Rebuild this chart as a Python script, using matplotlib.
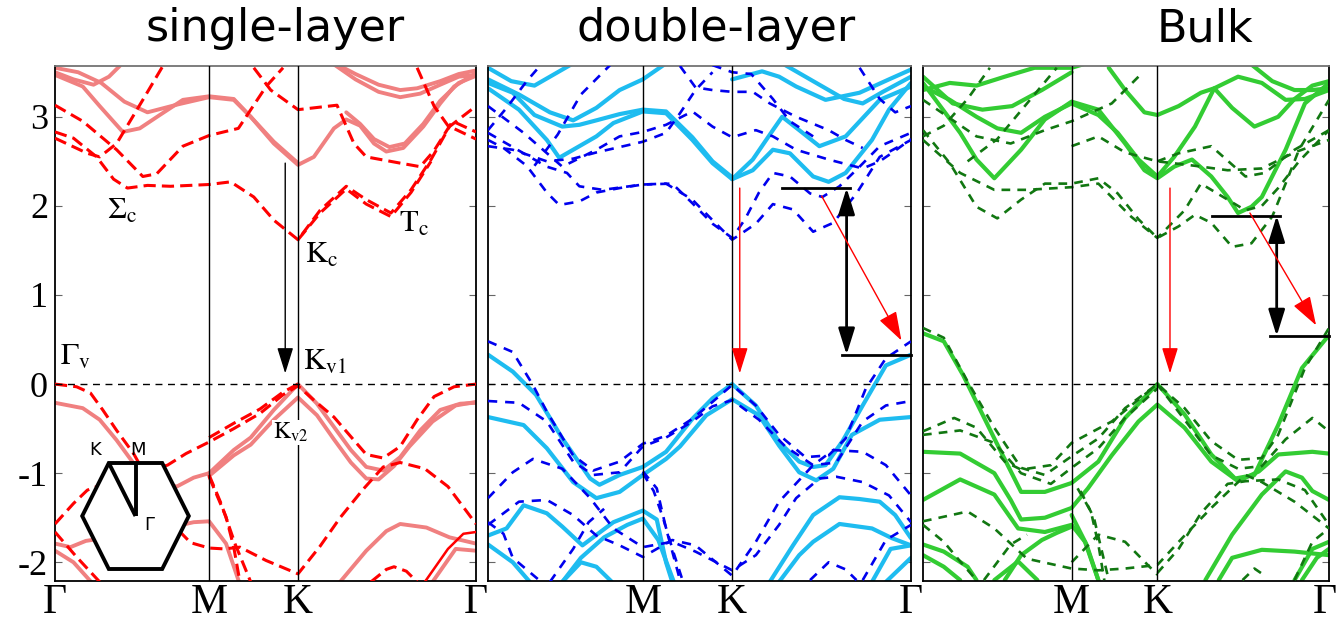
import numpy as np
import matplotlib
matplotlib.use('Agg')
import matplotlib.pyplot as plt
import matplotlib.transforms as mtransforms
from matplotlib.patches import Polygon

plt.rcParams['mathtext.fontset'] = 'stix'
plt.rcParams['font.family'] = ['Liberation Serif', 'DejaVu Serif']
plt.rcParams['axes.unicode_minus'] = False

# path Gamma-M-K-Gamma, distances in units of |Gamma-M|
KPTS = [0.0, 1.0, 1.577, 2.732]
EMIN, EMAX = -2.21, 3.57

# ---------------- single layer ----------------
SL_SOLID = [
    ([0, 0.18, 0.29, 0.44, 0.55, 0.68, 0.83, 1.0, 1.16, 1.27, 1.42, 1.577, 1.68, 1.81, 1.89, 1.98, 2.07, 2.15, 2.26, 2.39, 2.5, 2.59, 2.732],
     [3.47, 3.34, 3.12, 2.83, 2.87, 3.02, 3.19, 3.23, 3.2, 3.0, 2.70, 2.46, 2.55, 2.87, 2.97, 2.9, 2.70, 2.61, 2.65, 2.89, 3.15, 3.34, 3.49]),
    ([0, 0.15, 0.3, 0.45, 0.6, 0.8, 1.0, 1.16, 1.27, 1.42, 1.577],
     [3.55, 3.5, 3.38, 3.17, 3.05, 3.14, 3.22, 3.19, 3.0, 2.72, 2.48]),
    ([1.85, 1.95, 2.1, 2.24, 2.35, 2.5, 2.62, 2.732],
     [3.57, 3.48, 3.36, 3.30, 3.32, 3.4, 3.48, 3.52]),
    ([1.8, 1.95, 2.1, 2.24, 2.37, 2.5, 2.62, 2.732],
     [3.6, 3.42, 3.28, 3.22, 3.26, 3.36, 3.45, 3.47]),
    ([1.89, 1.98, 2.07, 2.17, 2.27, 2.39, 2.5, 2.62, 2.732],
     [3.05, 2.92, 2.75, 2.66, 2.70, 2.92, 3.18, 3.38, 3.46]),
    ([0, 0.12, 0.25, 0.35, 0.42], [3.5, 3.42, 3.36, 3.45, 3.57]),
    # valence
    ([1.0, 1.16, 1.27, 1.42, 1.577, 1.70, 1.81, 1.92, 2.02, 2.13, 2.24, 2.37, 2.5, 2.63, 2.732],
     [-1.0, -0.74, -0.60, -0.29, 0.0, -0.22, -0.48, -0.74, -0.93, -0.97, -0.82, -0.52, -0.29, -0.22, -0.21]),
    ([1.0, 1.16, 1.27, 1.42, 1.577, 1.70, 1.81, 1.92, 2.02, 2.1, 2.2, 2.3, 2.45, 2.6, 2.732],
     [-1.03, -0.80, -0.68, -0.40, -0.15, -0.35, -0.62, -0.88, -1.06, -1.07, -0.92, -0.70, -0.42, -0.24, -0.20]),
    ([0, 0.18, 0.29, 0.4, 0.51, 0.62, 0.79, 0.9, 1.0],
     [-0.21, -0.27, -0.40, -0.63, -0.89, -1.08, -1.15, -1.05, -1.0]),
    ([0, 0.1, 0.2, 0.35, 0.5, 0.65, 0.77, 0.9, 1.0, 1.11, 1.2],
     [-1.79, -1.83, -1.76, -1.72, -1.68, -1.63, -1.60, -1.55, -1.54, -1.79, -2.25]),
    ([0, 0.12, 0.25], [-1.87, -2.0, -2.25]),
    ([1.85, 2.02, 2.15, 2.24, 2.41, 2.56, 2.732],
     [-2.22, -1.87, -1.65, -1.57, -1.61, -1.72, -1.79]),
    ([2.45, 2.6, 2.732], [-2.22, -1.85, -1.87]),
]
SL_THIN = [([2.4, 2.55, 2.65, 2.732], [-2.22, -1.85, -1.68, -1.66])]
SL_DASH = [
    ([0, 0.12, 0.27, 0.38, 0.47, 0.6, 0.75, 1.0, 1.14, 1.29, 1.42, 1.577, 1.72, 1.89, 2.02, 2.18, 2.31, 2.44, 2.56, 2.732],
     [2.83, 2.76, 2.55, 2.30, 2.20, 2.23, 2.22, 2.24, 2.27, 2.10, 1.84, 1.62, 1.95, 2.22, 2.07, 1.92, 2.18, 2.52, 2.89, 3.12]),
    ([1.577, 1.72, 1.89, 2.02, 2.18, 2.31, 2.44], [1.62, 1.92, 2.19, 2.02, 1.88, 2.15, 2.5]),
    ([0, 0.18, 0.4, 0.57, 0.66, 0.83, 1.0, 1.19, 1.37, 1.48],
     [3.13, 2.95, 2.63, 2.33, 2.36, 2.67, 2.79, 2.87, 3.34, 3.55]),
    ([0, 0.21, 0.29, 0.4, 0.57, 0.7], [2.76, 2.59, 2.55, 2.70, 3.19, 3.57]),
    ([1.29, 1.4, 1.577, 1.83, 1.94, 2.02, 2.24, 2.37, 2.46, 2.58, 2.732],
     [3.55, 3.3, 3.08, 3.13, 2.70, 2.55, 2.48, 2.44, 2.62, 2.95, 2.83]),
    ([2.35, 2.46, 2.55, 2.732], [3.55, 3.12, 2.9, 2.75]),
    # valence
    ([0, 0.14, 0.23, 0.31, 0.4, 0.51, 0.62, 0.75, 0.88, 1.0, 1.1, 1.2, 1.37, 1.577, 1.72, 1.85, 2.0, 2.13, 2.24, 2.4, 2.55, 2.65, 2.732],
     [0.0, -0.03, -0.10, -0.29, -0.52, -0.78, -1.12, -1.55, -1.78, -1.84, -1.85, -1.83, -1.98, -2.13, -1.82, -1.50, -1.18, -0.93, -0.88, -0.95, -1.15, -1.38, -1.57]),
    ([0, 0.12, 0.21, 0.35, 0.5, 0.62, 0.73, 0.85, 1.0, 1.16, 1.33, 1.48, 1.577, 1.68, 1.81, 1.94, 2.02, 2.13, 2.24, 2.35, 2.46, 2.59, 2.732],
     [-1.57, -1.34, -1.19, -1.10, -1.02, -0.96, -0.91, -0.78, -0.65, -0.50, -0.33, -0.12, -0.02, -0.18, -0.37, -0.63, -0.79, -0.83, -0.70, -0.40, -0.14, -0.03, 0.0]),
    ([1.0, 1.16, 1.33, 1.48, 1.577], [-0.60, -0.44, -0.28, -0.09, 0.0]),
    ([1.0, 1.11, 1.16, 1.2], [-1.04, -1.49, -1.83, -2.22]),
    ([1.0, 1.08, 1.17, 1.27], [-1.02, -1.35, -1.8, -2.22]),
    ([2.05, 2.15, 2.2, 2.28, 2.35], [-2.22, -2.08, -2.05, -2.1, -2.22]),
    ([0, 0.14, 0.29], [-1.66, -1.94, -2.22]),
]

# ---------------- double layer ----------------
DL_SOLID = [
    ([0, 0.2, 0.38, 0.46, 0.59, 0.7, 0.81, 1.0, 1.15, 1.32, 1.45, 1.577, 1.71, 1.84, 1.95, 2.10, 2.2, 2.31, 2.48, 2.59, 2.732],
     [3.32, 3.08, 2.74, 2.54, 2.67, 2.78, 2.93, 3.06, 3.04, 2.74, 2.48, 2.30, 2.40, 2.63, 2.59, 2.33, 2.27, 2.37, 2.74, 3.08, 3.38]),
    ([0, 0.16, 0.3, 0.48, 0.59, 0.7, 0.85, 1.0, 1.15, 1.32, 1.45, 1.577],
     [3.38, 3.27, 3.02, 2.89, 2.91, 2.96, 3.03, 3.08, 3.06, 2.77, 2.50, 2.32]),
    ([1.577, 1.71, 1.84, 1.90, 2.01, 2.14, 2.31, 2.53, 2.732],
     [2.30, 2.52, 2.85, 3.0, 2.85, 2.67, 2.78, 3.19, 3.34]),
    ([1.577, 1.77, 1.88, 1.99, 2.18, 2.40, 2.59, 2.732],
     [3.42, 3.51, 3.45, 3.34, 3.19, 3.27, 3.42, 3.53]),
    ([1.9, 2.1, 2.3, 2.42, 2.55, 2.732], [3.6, 3.4, 3.2, 3.15, 3.28, 3.45]),
    ([0, 0.2, 0.4, 0.55, 0.7, 0.85, 1.0, 1.15], [3.42, 3.25, 3.05, 2.96, 3.1, 3.3, 3.42, 3.6]),
    ([0, 0.15, 0.3, 0.45, 0.6], [3.55, 3.4, 3.35, 3.5, 3.65]),
    # valence
    ([0, 0.16, 0.31, 0.48, 0.66, 0.72, 0.85, 1.0, 1.15, 1.32, 1.45, 1.577, 1.73, 1.88, 2.01, 2.1, 2.18, 2.29, 2.42, 2.57, 2.732],
     [0.33, 0.14, -0.12, -0.61, -1.06, -1.13, -1.02, -0.93, -0.76, -0.39, -0.16, 0.0, -0.24, -0.65, -0.87, -0.93, -0.91, -0.64, -0.24, 0.21, 0.33]),
    ([0, 0.23, 0.38, 0.55, 0.7, 0.85, 1.0, 1.15, 1.24, 1.41, 1.577, 1.75, 1.88, 2.01, 2.12, 2.23, 2.35, 2.53, 2.732],
     [-0.37, -0.46, -0.72, -1.10, -1.28, -1.21, -1.02, -0.84, -0.70, -0.35, -0.17, -0.35, -0.69, -0.99, -1.08, -0.95, -0.57, -0.40, -0.37]),
    ([0, 0.12, 0.23, 0.38, 0.48, 0.61, 0.81, 1.0, 1.09, 1.15, 1.19],
     [-1.70, -1.62, -1.36, -1.45, -1.6, -1.81, -1.55, -1.42, -1.52, -2.0, -2.22]),
    ([0.48, 0.6, 0.75, 0.9, 1.0, 1.1, 1.2], [-2.22, -1.95, -1.72, -1.58, -1.51, -1.75, -2.22]),
    ([0, 0.16, 0.27], [-1.8, -2.0, -2.22]),
    ([0.48, 0.6, 0.7, 0.8], [-2.22, -2.0, -2.05, -2.22]),
    ([1.82, 1.97, 2.1, 2.27, 2.40, 2.53, 2.63, 2.732],
     [-2.22, -1.81, -1.47, -1.27, -1.29, -1.32, -1.47, -1.73]),
    ([1.88, 2.01, 2.1, 2.27, 2.48, 2.61, 2.732],
     [-2.22, -1.92, -1.77, -1.57, -1.62, -1.73, -1.81]),
    ([2.48, 2.6, 2.732], [-2.22, -1.85, -1.81]),
    ([2.57, 2.732], [-2.22, -1.95]),
]
DL_DASH = [
    ([0, 0.1, 0.25, 0.38, 0.46, 0.59, 0.7, 0.85, 1.0, 1.15, 1.32, 1.45, 1.577, 1.73, 1.84, 1.97, 2.1, 2.23, 2.38, 2.53, 2.732],
     [2.74, 2.65, 2.45, 2.15, 2.01, 2.05, 2.15, 2.20, 2.24, 2.25, 2.07, 1.84, 1.62, 1.80, 2.02, 1.96, 1.71, 1.81, 2.14, 2.55, 2.74]),
    ([0, 0.27, 0.38, 0.51, 0.59, 0.74, 1.0, 1.19, 1.32, 1.45, 1.577, 1.66, 1.75, 1.84, 1.95, 2.08, 2.16, 2.27, 2.40, 2.53, 2.732],
     [2.82, 2.55, 2.44, 2.37, 2.22, 2.18, 2.24, 2.25, 2.03, 1.80, 1.64, 1.85, 2.15, 2.37, 2.33, 2.14, 2.10, 2.22, 2.44, 2.67, 2.82]),
    ([0, 0.23, 0.48, 0.7, 0.85, 1.0, 1.15, 1.32, 1.45, 1.577, 1.73, 1.84, 1.99, 2.2, 2.42, 2.53, 2.63, 2.732],
     [3.12, 2.82, 2.44, 2.63, 2.78, 2.83, 2.91, 3.06, 2.89, 2.77, 2.85, 2.78, 2.63, 2.52, 2.42, 2.5, 2.62, 2.75]),
    ([0, 0.16, 0.38, 0.55, 0.7, 1.0, 1.15, 1.24, 1.34, 1.45],
     [2.67, 2.63, 2.50, 2.53, 2.60, 2.72, 2.82, 3.04, 3.3, 3.5]),
    ([1.24, 1.34, 1.45, 1.577, 1.71, 1.82, 1.99, 2.2, 2.31, 2.42],
     [3.57, 3.33, 3.30, 3.28, 3.28, 3.15, 3.0, 2.85, 2.74, 2.65]),
    ([1.45, 1.577, 1.7, 1.84, 1.95, 2.1], [3.58, 3.5, 3.48, 3.2, 2.95, 2.78]),
    ([0, 0.12, 0.25, 0.35], [2.85, 3.1, 3.4, 3.6]),
    ([0.3, 0.45, 0.6, 0.8], [2.45, 2.8, 3.25, 3.6]),
    ([2.4, 2.53, 2.63, 2.732], [3.55, 3.2, 3.05, 3.12]),
    # valence
    ([0, 0.16, 0.29, 0.38, 0.55, 0.68, 0.85, 1.0, 1.15, 1.32, 1.45, 1.577, 1.73, 1.88, 2.05, 2.2, 2.31, 2.44, 2.57, 2.732],
     [0.48, 0.36, -0.01, -0.31, -0.80, -0.97, -0.87, -0.67, -0.58, -0.39, -0.20, -0.01, -0.24, -0.57, -0.82, -0.80, -0.61, -0.05, 0.29, 0.48]),
    ([0, 0.2, 0.38, 0.55, 0.68, 0.85, 1.0, 1.15, 1.32, 1.45, 1.577, 1.75, 1.92, 2.1, 2.25, 2.42, 2.57, 2.732],
     [-0.19, -0.21, -0.42, -0.87, -1.02, -0.99, -0.70, -0.60, -0.42, -0.25, -0.18, -0.40, -0.70, -0.91, -0.88, -0.42, -0.24, -0.19]),
    ([0, 0.16, 0.29, 0.48, 0.66, 0.81, 1.0, 1.19, 1.34, 1.577, 1.73, 1.88, 1.99, 2.14, 2.25, 2.42, 2.59, 2.732],
     [-1.28, -0.99, -0.84, -0.95, -1.28, -1.62, -1.83, -1.77, -1.88, -2.09, -1.92, -1.58, -1.28, -1.06, -1.04, -1.10, -1.25, -1.55]),
    ([0, 0.2, 0.38, 0.55, 0.7, 0.85, 1.0, 1.19, 1.34, 1.577, 1.73, 1.88, 2.10, 2.23, 2.42, 2.57, 2.732],
     [-1.58, -1.32, -1.30, -1.47, -1.70, -1.81, -1.94, -1.75, -1.81, -2.15, -1.77, -1.32, -0.91, -0.74, -0.76, -0.91, -1.25]),
    ([1.0, 1.09, 1.15, 1.24], [-0.98, -1.17, -1.62, -2.2]),
    ([1.0, 1.07, 1.13, 1.2, 1.26], [-1.0, -1.2, -1.5, -1.9, -2.22]),
    ([0, 0.1, 0.16, 0.33], [-1.55, -1.68, -1.95, -2.2]),
    ([0.4, 0.55, 0.65, 0.75], [-2.22, -1.85, -1.55, -1.40]),
    ([2.08, 2.2, 2.31, 2.38], [-2.2, -2.0, -2.08, -2.2]),
    ([2.42, 2.57, 2.732], [-2.2, -1.75, -1.58]),
]

# ---------------- bulk ----------------
BK_SOLID = [
    ([0, 0.25, 0.36, 0.48, 0.66, 0.82, 1.0, 1.18, 1.36, 1.49, 1.577, 1.69, 1.81, 1.94, 2.05, 2.12, 2.21, 2.28, 2.44, 2.57, 2.732],
     [3.38, 2.82, 2.52, 2.31, 2.63, 2.97, 3.17, 3.08, 2.70, 2.40, 2.31, 2.44, 2.52, 2.33, 2.10, 1.92, 1.99, 2.10, 2.63, 3.15, 3.38]),
    ([0, 0.18, 0.36, 0.5, 0.66, 0.82, 1.0, 1.18, 1.31, 1.45, 1.577],
     [3.34, 3.19, 3.0, 2.87, 2.82, 3.0, 3.15, 3.02, 2.82, 2.52, 2.33]),
    ([1.577, 1.69, 1.83, 1.96, 2.12, 2.28, 2.44, 2.57, 2.732],
     [2.33, 2.55, 2.89, 3.32, 3.45, 3.38, 3.19, 3.2, 3.30]),
    ([1.25, 1.36, 1.49, 1.577, 1.72, 1.87, 1.96, 2.08, 2.23, 2.39, 2.5, 2.62, 2.732],
     [3.55, 3.30, 3.05, 3.02, 3.12, 3.27, 3.32, 3.1, 2.89, 3.0, 3.2, 3.35, 3.40]),
    ([0, 0.18, 0.36, 0.55, 0.75, 1.0, 1.1], [3.30, 3.38, 3.35, 3.45, 3.55, 3.55, 3.6]),
    ([0, 0.2, 0.4, 0.6, 0.8, 1.0], [3.45, 3.15, 3.08, 3.12, 3.3, 3.5]),
    ([2.2, 2.35, 2.5, 2.62, 2.732], [3.6, 3.4, 3.3, 3.3, 3.32]),
    # valence
    ([0, 0.14, 0.27, 0.48, 0.66, 0.82, 1.0, 1.18, 1.36, 1.577, 1.76, 1.94, 2.10, 2.23, 2.39, 2.55, 2.732],
     [0.57, 0.48, 0.10, -0.61, -1.21, -1.21, -1.11, -0.87, -0.38, 0.0, -0.34, -0.79, -1.06, -1.02, -0.46, 0.18, 0.55]),
    ([0, 0.25, 0.48, 0.59, 0.66, 0.82, 1.0, 1.11, 1.27, 1.45, 1.577, 1.76, 1.94, 2.12, 2.26, 2.39, 2.62, 2.732],
     [-0.76, -0.78, -1.0, -1.3, -1.52, -1.50, -1.39, -1.17, -0.80, -0.42, -0.23, -0.49, -0.87, -1.09, -0.98, -0.79, -0.76, -0.78]),
    ([0, 0.25, 0.48, 0.64, 0.82, 1.0, 1.09, 1.18], [-1.30, -1.07, -1.24, -1.62, -1.66, -1.58, -1.77, -2.2]),
    ([1.0, 1.1, 1.18], [-1.47, -1.8, -2.2]),
    ([0.55, 0.66, 0.8, 0.9, 1.0], [-2.2, -1.92, -1.75, -1.67, -1.60]),
    ([1.90, 2.08, 2.28, 2.44, 2.55, 2.62, 2.732], [-2.2, -1.69, -1.24, -0.98, -1.05, -1.2, -1.30]),
    ([1.99, 2.08, 2.28, 2.5, 2.732], [-2.2, -1.95, -1.86, -1.88, -1.92]),
    ([2.5, 2.62, 2.732], [-2.2, -1.85, -1.77]),
    ([2.55, 2.65, 2.732], [-2.2, -1.95, -1.85]),
    ([0, 0.14, 0.3, 0.36], [-1.80, -1.88, -2.05, -2.2]),
    ([0, 0.14, 0.25], [-1.92, -2.05, -2.2]),
    ([0.48, 0.64, 0.77], [-2.2, -1.99, -2.2]),
]
BK_DASH = [
    ([0, 0.18, 0.36, 0.5, 0.66, 0.82, 1.0, 1.18, 1.31, 1.45, 1.577, 1.72, 1.83, 1.94, 2.08, 2.21, 2.35, 2.44, 2.53, 2.732],
     [2.85, 2.48, 1.99, 1.86, 2.07, 2.25, 2.25, 2.31, 2.14, 1.85, 1.64, 1.77, 1.90, 1.81, 1.54, 1.58, 1.88, 2.25, 2.63, 3.19]),
    ([0, 0.25, 0.48, 0.7, 1.0, 1.18, 1.40, 1.577, 1.76, 1.87, 2.05, 2.17, 2.28, 2.39, 2.53, 2.732],
     [2.74, 2.37, 2.18, 2.18, 2.21, 2.25, 1.88, 1.64, 1.95, 2.25, 2.07, 1.95, 2.0, 2.2, 2.5, 2.85]),
    ([0, 0.36, 0.59, 0.82, 1.0, 1.27, 1.45], [3.19, 2.78, 2.70, 2.85, 2.95, 3.15, 3.45]),
    ([1.577, 1.72, 1.94, 2.17, 2.30, 2.5, 2.732], [2.50, 2.59, 2.67, 2.33, 2.37, 2.63, 2.85]),
    ([1.0, 1.18, 1.36, 1.577, 1.83, 2.05, 2.28, 2.5, 2.732], [2.67, 2.78, 2.6, 2.50, 2.45, 2.4, 2.42, 2.60, 2.74]),
    ([0, 0.14, 0.3, 0.45], [2.78, 2.9, 3.2, 3.55]),
    ([0.3, 0.5, 0.7, 0.9], [2.5, 2.75, 3.15, 3.55]),
    # valence
    ([0, 0.14, 0.30, 0.48, 0.66, 0.82, 1.0, 1.18, 1.36, 1.577, 1.76, 1.94, 2.12, 2.28, 2.39, 2.57, 2.732],
     [0.63, 0.52, 0.03, -0.49, -0.94, -1.02, -0.81, -0.61, -0.27, 0.0, -0.27, -0.64, -0.85, -0.83, -0.57, 0.18, 0.63]),
    ([0, 0.21, 0.36, 0.55, 0.66, 0.86, 1.0, 1.27, 1.577, 1.76, 1.94, 2.12, 2.28, 2.44, 2.62, 2.732],
     [-0.53, -0.38, -0.49, -0.87, -0.96, -0.91, -0.66, -0.42, 0.0, -0.40, -0.80, -0.95, -0.92, -0.62, -0.38, -0.53]),
    ([0, 0.25, 0.48, 0.66, 0.86, 1.0, 1.18, 1.36, 1.577], [-0.57, -0.52, -0.66, -1.0, -1.12, -0.94, -0.72, -0.38, -0.05]),
    ([0, 0.3, 0.48, 0.7, 1.0, 1.18, 1.36, 1.577, 1.76, 1.94, 2.17, 2.28, 2.5, 2.732],
     [-1.54, -1.43, -1.62, -1.96, -2.07, -2.09, -2.07, -2.03, -1.70, -1.39, -1.02, -1.1, -1.32, -1.62]),
    ([1.577, 1.72, 1.87, 2.05, 2.17, 2.39, 2.57, 2.732], [-2.12, -1.85, -1.45, -1.12, -1.09, -1.07, -1.19, -1.58]),
    ([1.0, 1.18, 1.36, 1.577], [-2.0, -1.69, -1.77, -2.14]),
    ([1.04, 1.13, 1.18, 1.22], [-1.17, -1.43, -1.8, -2.2]),
    ([1.06, 1.15, 1.2, 1.25], [-1.2, -1.5, -1.85, -2.2]),
    ([0, 0.14, 0.25, 0.36], [-1.58, -1.77, -1.99, -2.2]),
    ([0.41, 0.59, 0.7], [-2.2, -1.8, -1.69]),
    ([2.15, 2.23, 2.3], [-2.2, -2.07, -2.15]),
    ([2.5, 2.62, 2.732], [-2.2, -1.77, -1.62]),
]

# transitions: vertical (direct) and indirect arrows, gap markers
SL_DIRECT = (1.494, 2.48, 0.12)
DL_DIRECT = (1.626, 2.20, 0.12)
BK_DIRECT = (1.662, 2.20, 0.12)
DL_GAP = dict(upper=(1.90, 2.34, 2.20), lower=(2.284, 2.732, 0.33), k=2.316,
              indirect=((2.155, 2.11), (2.67, 0.49)))
BK_GAP = dict(upper=(1.945, 2.40, 1.89), lower=(2.335, 2.732, 0.54), k=2.38,
              indirect=((2.20, 1.92), (2.645, 0.66)))

# Brillouin zone sketch (pixel-like units around its centre)
HEX_X = [-53.3, -26.7, 26.7, 53.3, 26.7, -26.7, -53.3]
HEX_Y = [0, 53, 53, 0, -53, -53, 0]

W, H = 1338, 622
fig = plt.figure(figsize=(W / 100, H / 100), dpi=100)

panel_px = [(55, 476), (488, 911), (923, 1329)]
top_px, bot_px = 66, 581
axes = []
for x0, x1 in panel_px:
    ax = fig.add_axes([x0 / W, 1 - bot_px / H, (x1 - x0) / W, (bot_px - top_px) / H])
    axes.append(ax)

styles = [
    dict(solid=SL_SOLID, dash=SL_DASH, sc='#f08080', dc='#ff0000', slw=2.8, dlw=2.2, dpat=(4, 2)),
    dict(solid=DL_SOLID, dash=DL_DASH, sc='#1ebcf0', dc='#0000ee', slw=3.0, dlw=1.9, dpat=(3.5, 3)),
    dict(solid=BK_SOLID, dash=BK_DASH, sc='#33cc33', dc='#117711', slw=3.0, dlw=1.9, dpat=(3.3, 2.7)),
]
xlabels = [['Γ', 'M', 'K', 'Γ'], ['', 'M', 'K', 'Γ'], ['', 'M', 'K', 'Γ']]

for i, (ax, st) in enumerate(zip(axes, styles)):
    for k, e in st['solid']:
        ax.plot(k, e, color=st['sc'], lw=st['slw'], solid_capstyle='round',
                solid_joinstyle='round', zorder=2)
    for k, e in st['dash']:
        ax.plot(k, e, color=st['dc'], lw=st['dlw'], dashes=st['dpat'], zorder=3)
    if i == 0:
        for k, e in SL_THIN:
            ax.plot(k, e, color='#ff0000', lw=1.8, zorder=3)
    for kp in KPTS[1:3]:
        ax.axvline(kp, color='k', lw=1.0, zorder=4)
    ax.axhline(0, color='k', lw=1.0, dashes=(5, 4), zorder=4)
    ax.set_xlim(KPTS[0], KPTS[-1])
    ax.set_ylim(EMIN, EMAX)
    ax.set_yticks([-2, -1, 0, 1, 2, 3])
    ax.tick_params(axis='y', direction='in', length=5, color='0.4', left=True, right=True,
                   labelsize=26, pad=5)
    ax.tick_params(axis='x', length=0, labelsize=30, pad=2)
    ax.set_xticks(KPTS)
    ax.set_xticklabels(xlabels[i])
    if i > 0:
        ax.set_yticklabels([])
    for s in ['left', 'right', 'bottom']:
        ax.spines[s].set_linewidth(1.3)
    ax.spines['top'].set_color('0.45')
    ax.spines['top'].set_linewidth(1.3)

ax1, ax2, ax3 = axes

# keep the closing Gamma inside the figure edge
last = ax3.get_xticklabels()[-1]
last.set_horizontalalignment('right')
last.set_transform(last.get_transform() + mtransforms.ScaledTranslation(8 / 100, 0, fig.dpi_scale_trans))

# direct transitions at K
arrow_k = dict(arrowstyle='-|>,head_length=1.6,head_width=0.5', lw=1.0, shrinkA=0, shrinkB=0)
ax1.annotate('', xy=(SL_DIRECT[0], SL_DIRECT[2]), xytext=(SL_DIRECT[0], SL_DIRECT[1]),
             arrowprops=dict(color='k', **arrow_k), zorder=6)
for ax, d in [(ax2, DL_DIRECT), (ax3, BK_DIRECT)]:
    ax.annotate('', xy=(d[0], d[2]), xytext=(d[0], d[1]),
                arrowprops=dict(color='#ff0000', **arrow_k), zorder=6)

# indirect gaps
for ax, g in [(ax2, DL_GAP), (ax3, BK_GAP)]:
    ka, kb, eu = g['upper']
    ax.plot([ka, kb], [eu, eu], color='k', lw=2.0, zorder=6)
    kc, kd, el = g['lower']
    ax.plot([kc, kd], [el, el], color='k', lw=2.0, zorder=6, clip_on=False)
    ax.annotate('', xy=(g['k'], el), xytext=(g['k'], eu),
                arrowprops=dict(arrowstyle='<|-|>,head_length=1.6,head_width=0.5', color='k',
                                lw=2.0, shrinkA=0, shrinkB=0), zorder=6)
    (k0, e0), (k1, e1) = g['indirect']
    ax.annotate('', xy=(k1, e1), xytext=(k0, e0),
                arrowprops=dict(arrowstyle='-|>,head_length=1.8,head_width=0.6', color='#ff0000',
                                lw=1.0, shrinkA=0, shrinkB=0), zorder=6)

# valley labels
lab = dict(fontsize=22, ha='left', va='center', zorder=7)
ax1.text(0.34, 1.94, r'$\Sigma_{\rm c}$', **lab)
ax1.text(2.23, 1.79, r'$\rm T_{c}$', **lab)
ax1.text(1.62, 1.45, r'$\rm K_{c}$', **lab)
ax1.text(1.61, 0.25, r'$\rm K_{v1}$', **lab)
ax1.text(0.03, 0.30, r'$\Gamma_{\rm v}$', **lab)
ax1.text(1.415, -0.54, r'$\rm K_{v2}$', fontsize=17, ha='left', va='center', zorder=7,
         bbox=dict(fc='white', ec='none', pad=0.5))

# Brillouin zone inset
cx, cy, half = 135.5, 516, 75
bz = fig.add_axes([(cx - half) / W, 1 - (cy + half) / H, 2 * half / W, 2 * half / H])
bz.set_xlim(-half, half)
bz.set_ylim(-half, half)
bz.axis('off')
bz.add_patch(Polygon(np.column_stack([HEX_X, HEX_Y]), closed=True, fc='white', ec='k', lw=2.8,
                     joinstyle='miter'))
bz.plot([0, HEX_X[1]], [0, HEX_Y[1]], color='k', lw=2.8, solid_capstyle='butt')
bz.plot([0, 0], [0, HEX_Y[1]], color='k', lw=2.8, solid_capstyle='butt')
bz.text(-40, 66, 'K', family='DejaVu Sans', fontsize=13, ha='center', va='center')
bz.text(3, 66, 'M', family='DejaVu Sans', fontsize=13, ha='center', va='center')
bz.text(14, -9, 'Γ', family='DejaVu Sans', fontsize=13, ha='center', va='center')

# panel titles
tkw = dict(family='DejaVu Sans', fontsize=32, ha='center', va='center')
fig.text(275 / W, 1 - 29 / H, 'single-layer', **tkw)
fig.text(716 / W, 1 - 29 / H, 'double-layer', **tkw)
fig.text(1205 / W, 1 - 29 / H, 'Bulk', **tkw)

fig.savefig('out.png', dpi=100)
